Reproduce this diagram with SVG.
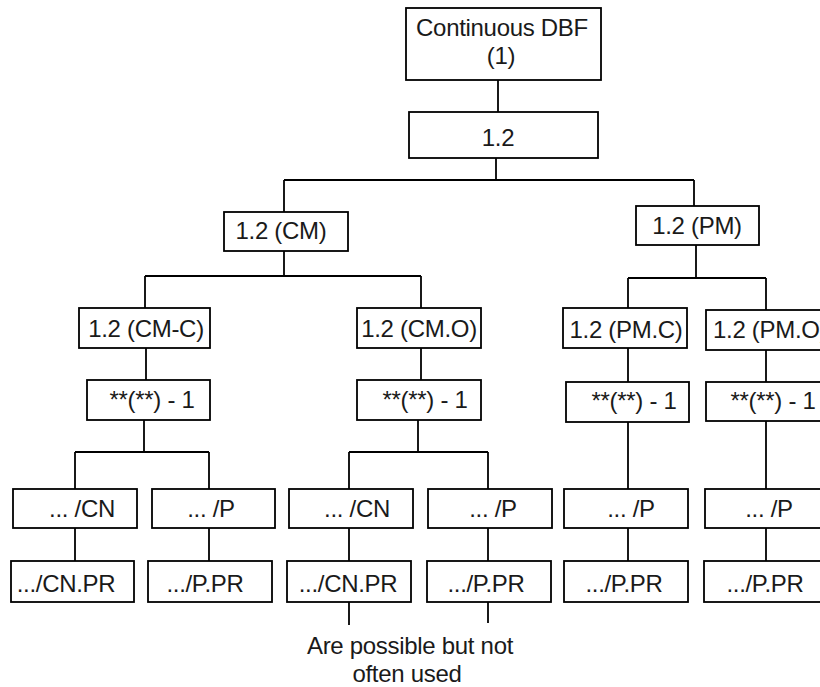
<svg xmlns="http://www.w3.org/2000/svg" width="820" height="687" viewBox="0 0 820 687">
<style>
rect{fill:#fff;stroke:#000;stroke-width:1.8}
text{font-family:"Liberation Sans",Arial,sans-serif;font-size:24px;letter-spacing:-0.3px;fill:#1a1a1a;text-anchor:middle}
.c line{stroke:#000;stroke-width:1.8}
</style>
<rect x="0" y="0" width="820" height="687" style="stroke:none"/>
<g class="c" id="connectors">
<line x1="498" y1="80" x2="498" y2="112"/>
<line x1="496" y1="158" x2="496" y2="180"/>
<line x1="284" y1="180" x2="694" y2="180"/>
<line x1="284" y1="180" x2="284" y2="212"/>
<line x1="694" y1="180" x2="694" y2="206"/>
<line x1="284" y1="251" x2="284" y2="276"/>
<line x1="145" y1="276" x2="421" y2="276"/>
<line x1="145" y1="276" x2="145" y2="308"/>
<line x1="421" y1="276" x2="421" y2="308"/>
<line x1="696" y1="245" x2="696" y2="278"/>
<line x1="628" y1="278" x2="766" y2="278"/>
<line x1="628" y1="278" x2="628" y2="308"/>
<line x1="766" y1="278" x2="766" y2="310"/>
<line x1="146" y1="348" x2="146" y2="380"/>
<line x1="421" y1="348" x2="421" y2="380"/>
<line x1="628" y1="348" x2="628" y2="382"/>
<line x1="766" y1="350" x2="766" y2="382"/>
<line x1="144" y1="420" x2="144" y2="452"/>
<line x1="75" y1="452" x2="209" y2="452"/>
<line x1="75" y1="452" x2="75" y2="489"/>
<line x1="209" y1="452" x2="209" y2="489"/>
<line x1="418" y1="420" x2="418" y2="452"/>
<line x1="349" y1="452" x2="488" y2="452"/>
<line x1="349" y1="452" x2="349" y2="489"/>
<line x1="488" y1="452" x2="488" y2="489"/>
<line x1="628" y1="422" x2="628" y2="489"/>
<line x1="766" y1="421" x2="766" y2="489"/>
<line x1="75" y1="528" x2="75" y2="561"/>
<line x1="209" y1="528" x2="209" y2="561"/>
<line x1="349" y1="528" x2="349" y2="561"/>
<line x1="488" y1="528" x2="488" y2="561"/>
<line x1="628" y1="528" x2="628" y2="561"/>
<line x1="766" y1="528" x2="766" y2="561"/>
<line x1="349" y1="602" x2="349" y2="625"/>
<line x1="488" y1="602" x2="488" y2="623"/>
</g>
<g id="root"><rect x="406" y="8" width="195" height="72"/><text x="502" y="36">Continuous DBF</text><text x="501" y="64">(1)</text></g>
<g id="n12"><rect x="409" y="112" width="189" height="46"/><text x="498" y="146">1.2</text></g>
<g id="cm"><rect x="224" y="212" width="124" height="39"/><text x="281" y="239">1.2 (CM)</text></g>
<g id="pm"><rect x="636" y="206" width="123" height="39"/><text x="697" y="234">1.2 (PM)</text></g>
<g id="cmc"><rect x="79" y="308" width="131" height="40"/><text x="146" y="337">1.2 (CM-C)</text></g>
<g id="cmo"><rect x="357" y="308" width="124" height="40"/><text x="419" y="337">1.2 (CM.O)</text></g>
<g id="pmc"><rect x="563" y="308" width="124" height="40"/><text x="626" y="338">1.2 (PM.C)</text></g>
<g id="pmo"><rect x="706" y="310" width="124" height="40"/><text x="713" y="338" style="text-anchor:start">1.2 (PM.O)</text></g>
<g id="s1"><rect x="87" y="380" width="123" height="40"/><text x="152" y="408">**(**) - 1</text></g>
<g id="s2"><rect x="357" y="380" width="124" height="40"/><text x="425" y="408">**(**) - 1</text></g>
<g id="s3"><rect x="566" y="382" width="123" height="40"/><text x="634" y="409">**(**) - 1</text></g>
<g id="s4"><rect x="706" y="382" width="124" height="39"/><text x="773" y="409">**(**) - 1</text></g>
<g id="cn1"><rect x="13" y="489" width="124" height="39"/><text x="82" y="517">... /CN</text></g>
<g id="p1"><rect x="152" y="489" width="123" height="39"/><text x="211" y="517">... /P</text></g>
<g id="cn2"><rect x="289" y="489" width="124" height="39"/><text x="357" y="517">... /CN</text></g>
<g id="p2"><rect x="428" y="489" width="124" height="39"/><text x="493" y="517">... /P</text></g>
<g id="p3"><rect x="564" y="489" width="124" height="39"/><text x="631" y="517">... /P</text></g>
<g id="p4"><rect x="705" y="489" width="125" height="39"/><text x="769" y="517">... /P</text></g>
<g id="cnpr1"><rect x="11" y="561" width="123" height="41"/><text x="66" y="592">.../CN.PR</text></g>
<g id="ppr1"><rect x="148" y="561" width="124" height="41"/><text x="205" y="592">.../P.PR</text></g>
<g id="cnpr2"><rect x="287" y="561" width="124" height="41"/><text x="348" y="592">.../CN.PR</text></g>
<g id="ppr2"><rect x="427" y="561" width="124" height="41"/><text x="486" y="592">.../P.PR</text></g>
<g id="ppr3"><rect x="564" y="561" width="124" height="41"/><text x="624" y="592">.../P.PR</text></g>
<g id="ppr4"><rect x="704" y="561" width="126" height="41"/><text x="765" y="592">.../P.PR</text></g>
<g id="note"><text x="410" y="654">Are possible but not</text><text x="407" y="682">often used</text></g>
</svg>
